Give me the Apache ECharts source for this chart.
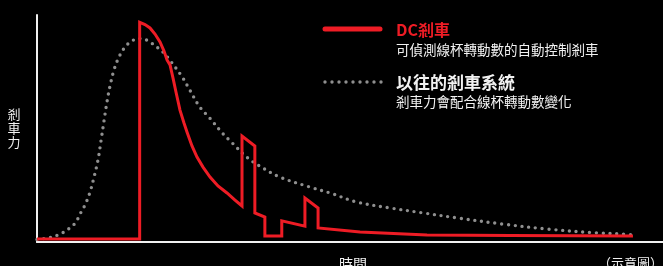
<!DOCTYPE html>
<html>
<head>
<meta charset="utf-8">
<script src="https://cdn.jsdelivr.net/npm/echarts@6/dist/echarts.min.js"></script>
<style>
  html, body { margin: 0; padding: 0; background: #000; }
  #chart { width: 663px; height: 266px; }
</style>
</head>
<body>
<div id="chart"></div>
<script>
// 時間 (0-100) / 剎車力 (0-100)
var dcTime  = [0, 16.4, 16.4, 17.25, 18.05, 18.85, 19.65, 20.29, 20.77, 21.25, 21.73, 22.2, 22.84, 23.48, 23.96, 24.76, 25.56, 26.52, 27.64, 28.91, 30.35, 31.63, 32.75,
               32.75, 34.8, 34.8, 36.4, 36.4, 39.1, 39.1, 42.8, 42.8, 44.9, 44.9, 51.6, 62.3, 75.6, 95.2];
var dcForce = [1.3, 1.3, 96.8, 95.8, 94.3, 91.6, 88.1, 84.1, 80.2, 78.0, 72.2, 66.1, 58.1, 52.4, 48.5, 42.3, 37.4, 33.0, 28.6, 24.7, 21.6, 18.5, 15.9,
               46.7, 42.3, 12.8, 11.0, 2.6, 2.6, 9.3, 7.0, 19.4, 15.0, 6.2, 4.4, 3.1, 2.9, 2.6];

var oldTime  = [0, 2.08, 3.67, 5.27, 6.23, 6.87, 7.67, 8.47, 9.11, 9.74, 10.22, 10.7, 11.18, 11.66, 12.3, 13.1, 14.06, 15.02, 16.13, 17.09, 18.05,
                20.1, 21.2, 23.2, 24.4, 26.0, 27.6, 29.6, 31.2, 33.5, 35.3, 38.8, 43.6, 46.8, 51.1, 56.4, 61.7, 67.1, 74.4, 81.5, 89.5, 93.6, 95.2];
var oldForce = [1.1, 2.0, 3.5, 6.2, 8.8, 12.3, 16.3, 22.0, 28.6, 36.1, 44.5, 53.3, 61.7, 68.7, 75.8, 81.5, 85.9, 88.3, 89.6, 89.4, 88.1,
                83.7, 80.2, 72.7, 67.0, 59.5, 54.6, 48.0, 43.6, 37.4, 33.9, 28.6, 24.2, 21.6, 17.6, 15.0, 12.8, 10.6, 7.9, 5.7, 4.0, 3.5, 3.1];

var seriesNames = ['DC剎車', '以往的剎車系統'];
var seriesNotes = ['可偵測線杯轉動數的自動控制剎車', '剎車力會配合線杯轉動數變化'];
var yName = '剎車力';
var xName = '時間';
var note = '（示意圖）';

var RED = '#ee1c25';
var GREY = '#8f8f8f';
var FONT = '"Noto Sans CJK TC", "Noto Sans", sans-serif';

function pairs(xs, ys) {
  return xs.map(function (x, i) { return [x, ys[i]]; });
}

var chart = echarts.init(document.getElementById('chart'));

var option = {
  backgroundColor: '#000',
  animation: false,
  grid: { left: 37, right: 0, top: 15, bottom: 24 },
  xAxis: {
    type: 'value', min: 0, max: 100,
    axisLine: { lineStyle: { color: '#f0f0f0', width: 2 } },
    axisTick: { show: false },
    axisLabel: { show: false },
    splitLine: { show: false }
  },
  yAxis: {
    type: 'value', min: 0, max: 100,
    axisLine: { show: true, lineStyle: { color: '#f0f0f0', width: 2 } },
    axisTick: { show: false },
    axisLabel: { show: false },
    splitLine: { show: false }
  },
  series: [
    {
      name: seriesNames[1],
      type: 'line',
      data: pairs(oldTime, oldForce),
      smooth: 0.35,
      showSymbol: false,
      lineStyle: { color: GREY, width: 3.4, type: [0, 6.8], cap: 'round' }
    },
    {
      name: seriesNames[0],
      type: 'line',
      data: pairs(dcTime, dcForce),
      showSymbol: false,
      lineStyle: { color: RED, width: 3, join: 'miter' }
    }
  ],
  graphic: [
    // legend
    { type: 'line', shape: { x1: 325, y1: 29, x2: 380, y2: 29 },
      style: { stroke: RED, lineWidth: 5, lineCap: 'round' } },
    { type: 'text', left: 396, top: 22,
      style: { text: seriesNames[0], fill: RED, font: 'bold 16px ' + FONT } },
    { type: 'text', left: 396, top: 43,
      style: { text: seriesNotes[0], fill: '#f2f2f2', font: '13.5px ' + FONT } },
    { type: 'line', shape: { x1: 325, y1: 82, x2: 382, y2: 82 },
      style: { stroke: GREY, lineWidth: 3.4, lineDash: [0, 7], lineCap: 'round' } },
    { type: 'text', left: 396, top: 74,
      style: { text: seriesNames[1], fill: '#f2f2f2', font: 'bold 17px ' + FONT } },
    { type: 'text', left: 396, top: 95,
      style: { text: seriesNotes[1], fill: '#f2f2f2', font: '13.5px ' + FONT } },
    // axis names
    { type: 'text', x: 14, y: 128,
      style: { text: yName.split('').join('\n'), fill: '#f2f2f2', font: '13px ' + FONT,
        lineHeight: 14, align: 'center', verticalAlign: 'middle' } },
    { type: 'text', x: 353, y: 257,
      style: { text: xName, fill: '#f2f2f2', font: '14px ' + FONT, align: 'center', verticalAlign: 'top' } },
    { type: 'text', x: 598, y: 257,
      style: { text: note, fill: '#f2f2f2', font: '13px ' + FONT, align: 'left', verticalAlign: 'top' } }
  ]
};

chart.setOption(option);
</script>
</body>
</html>
